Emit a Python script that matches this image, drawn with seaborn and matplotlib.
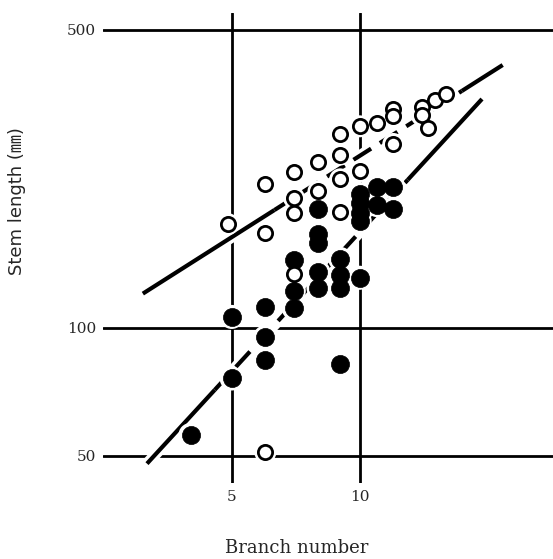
import numpy as np
import pandas as pd
import matplotlib
matplotlib.use("Agg")
import matplotlib.pyplot as plt
import seaborn as sns

# Open circles
open_branch = [4.9, 6, 6, 6, 7, 7, 7, 7, 8, 8, 9, 9, 9, 9, 10, 10, 11, 12, 12, 12, 14, 14, 14.5, 15, 16]
open_length = [175, 218, 167, 51, 232, 202, 186, 134, 245, 209, 285, 255, 223, 187, 297, 233, 302, 326, 314, 270, 329, 315, 295, 342, 353]

# Filled circles
solid_branch = [4, 5, 5, 6, 6, 6, 7, 7, 7, 8, 8, 8, 8, 8, 9, 9, 9, 9, 10, 10, 10, 10, 10, 11, 11, 12, 12]
solid_length = [56, 106, 76, 112, 95, 84, 144, 122, 111, 190, 166, 158, 135, 124, 145, 133, 124, 82, 206, 196, 186, 178, 131, 214, 194, 214, 190]

# Fitted power laws  y = a * x**b  (solid ends, dashed middle)
open_fit = dict(a=58.8, b=0.634, breaks=[3.09, 6.3, 17.4, 21.7])
solid_fit = dict(a=13.75, b=1.086, breaks=[3.16, 4.56, 12.97, 19.4])

x_ticks = [5, 10]
y_ticks = [50, 100, 500]

sns.set_style("white")
fig = plt.figure(figsize=(5.53, 5.59), dpi=100)
ax = fig.add_axes([103 / 553, 76 / 559, 450 / 553, 470 / 559])
ax.set_xscale("log")
ax.set_yscale("log")
ax.set_xlim(2.49, 28.5)
ax.set_ylim(43.2, 548)

for s in ax.spines.values():
    s.set_visible(False)

ax.set_xticks(x_ticks)
ax.set_yticks(y_ticks)
ax.set_xticklabels([str(v) for v in x_ticks])
ax.set_yticklabels([str(v) for v in y_ticks])
ax.minorticks_off()
ax.tick_params(length=0, pad=5)
for lab in ax.get_xticklabels() + ax.get_yticklabels():
    lab.set_fontfamily("DejaVu Serif")
    lab.set_fontsize(11)
ax.grid(True, color="black", linewidth=2.0, zorder=1)
ax.set_axisbelow(True)


def draw_fit(fit):
    xb = fit["breaks"]
    pieces = [(xb[0], xb[1], "-"), (xb[1], xb[2], "--"), (xb[2], xb[3], "-")]
    for x0, x1, ls in pieces:
        xs = np.geomspace(x0, x1, 50)
        ys = fit["a"] * xs ** fit["b"]
        ax.plot(xs, ys, color="white", lw=8, solid_capstyle="butt", zorder=2)
        line, = ax.plot(xs, ys, color="black", lw=3, linestyle=ls,
                        solid_capstyle="butt", zorder=3)
        if ls == "--":
            line.set_dashes((5, 2.5))


draw_fit(open_fit)
draw_fit(solid_fit)

df_open = pd.DataFrame({"branch": open_branch, "length": open_length})
df_solid = pd.DataFrame({"branch": solid_branch, "length": solid_length})

# white halos so grid and fit lines break around the points
for df, size in [(df_open, 250), (df_solid, 300)]:
    sns.scatterplot(data=df, x="branch", y="length", ax=ax, s=size, color="white",
                    edgecolor="none", linewidth=0, zorder=4, legend=False)

sns.scatterplot(data=df_solid, x="branch", y="length", ax=ax, s=170, color="black",
                edgecolor="black", linewidth=0.5, zorder=5, legend=False)
sns.scatterplot(data=df_open, x="branch", y="length", ax=ax, s=105, facecolor="white",
                edgecolor="black", linewidth=2.0, zorder=6, legend=False)

ax.set_xlabel("")
ax.set_ylabel("")

fig.text(297 / 553, 1 - 548 / 559, "Branch number", ha="center", va="center",
         fontsize=13, family="DejaVu Serif")
fig.text(17 / 553, 1 - 201 / 559, "Stem length (\u339c)", ha="center", va="center",
         rotation=90, fontsize=13, family=["DejaVu Sans", "Noto Sans CJK JP"])

fig.savefig("out.png", dpi=100)
